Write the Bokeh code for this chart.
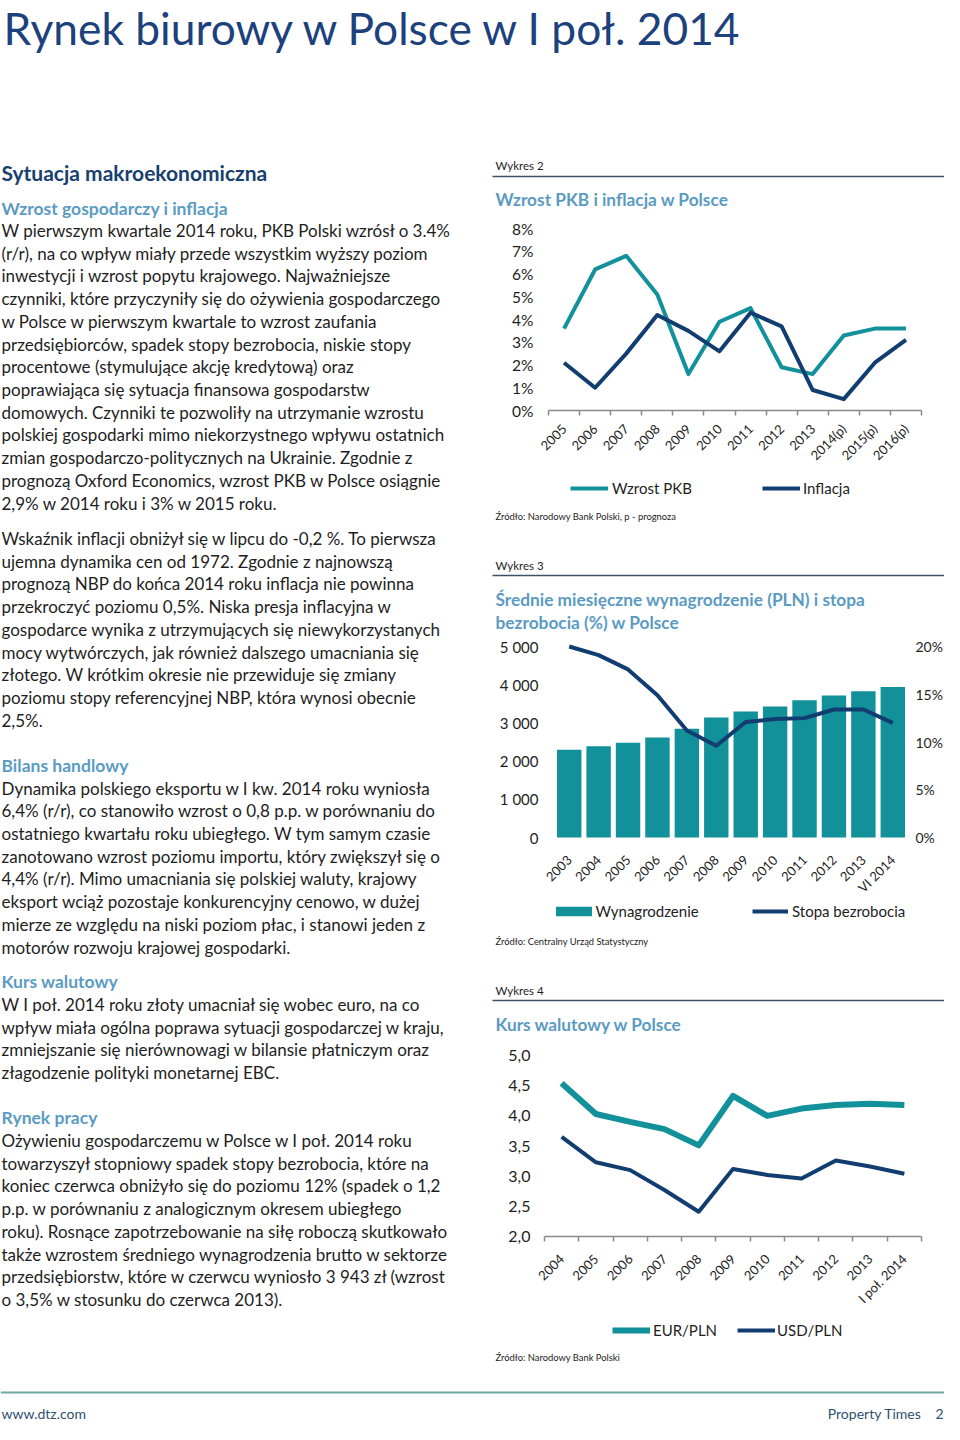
import math
from bokeh.plotting import figure
from bokeh.models import (Range1d, FixedTicker, PrintfTickFormatter, CustomJSTickFormatter,
                          LinearAxis, Legend, LegendItem)
from bokeh.core.properties import value
from bokeh.embed import file_html
from bokeh.resources import INLINE

# ---------------- data ----------------
years2 = ["2005", "2006", "2007", "2008", "2009", "2010", "2011", "2012", "2013",
          "2014(p)", "2015(p)", "2016(p)"]
gdp_growth = [3.6, 6.2, 6.8, 5.1, 1.6, 3.9, 4.5, 1.9, 1.6, 3.3, 3.6, 3.6]
inflation = [2.1, 1.0, 2.5, 4.2, 3.5, 2.6, 4.3, 3.7, 0.9, 0.5, 2.1, 3.1]
y2_ticks = [0, 1, 2, 3, 4, 5, 6, 7, 8]

years3 = ["2003", "2004", "2005", "2006", "2007", "2008", "2009", "2010", "2011",
          "2012", "2013", "VI 2014"]
wages = [2300, 2390, 2480, 2620, 2850, 3140, 3300, 3430, 3590, 3720, 3830, 3943]
unemployment = [20.0, 19.1, 17.6, 14.9, 11.2, 9.6, 12.1, 12.4, 12.5, 13.4, 13.4, 12.0]
y3_ticks = [0, 1000, 2000, 3000, 4000, 5000]
y3r_ticks = [0, 5, 10, 15, 20]

years4 = ["2004", "2005", "2006", "2007", "2008", "2009", "2010", "2011", "2012",
          "2013", "I poł. 2014"]
eur_pln = [4.54, 4.03, 3.90, 3.78, 3.51, 4.33, 4.00, 4.12, 4.18, 4.20, 4.18]
usd_pln = [3.65, 3.23, 3.10, 2.77, 2.41, 3.12, 3.02, 2.96, 3.26, 3.16, 3.04]
y4_ticks = [2.0, 2.5, 3.0, 3.5, 4.0, 4.5, 5.0]

# ---------------- texts ----------------
page_title = "Rynek biurowy w Polsce w I poł. 2014"
p1_lines = [
    "W pierwszym kwartale 2014 roku, PKB Polski wzrósł o 3.4%",
    "(r/r), na co wpływ miały przede wszystkim wyższy poziom",
    "inwestycji i wzrost popytu krajowego.  Najważniejsze",
    "czynniki, które przyczyniły się do ożywienia gospodarczego",
    "w Polsce w pierwszym kwartale to wzrost zaufania",
    "przedsiębiorców, spadek stopy bezrobocia, niskie stopy",
    "procentowe (stymulujące akcję kredytową) oraz",
    "poprawiająca się sytuacja finansowa gospodarstw",
    "domowych. Czynniki te pozwoliły na utrzymanie wzrostu",
    "polskiej gospodarki mimo niekorzystnego wpływu ostatnich",
    "zmian gospodarczo-politycznych na Ukrainie. Zgodnie z",
    "prognozą Oxford Economics, wzrost PKB w Polsce osiągnie",
    "2,9% w 2014 roku i 3% w 2015 roku.",
]
p2_lines = [
    "Wskaźnik inflacji obniżył się w lipcu do -0,2 %. To pierwsza",
    "ujemna dynamika cen od 1972. Zgodnie z najnowszą",
    "prognozą NBP do końca 2014 roku inflacja nie powinna",
    "przekroczyć poziomu 0,5%. Niska presja inflacyjna w",
    "gospodarce wynika z utrzymujących się niewykorzystanych",
    "mocy wytwórczych, jak również dalszego umacniania się",
    "złotego. W krótkim okresie nie przewiduje się zmiany",
    "poziomu stopy referencyjnej NBP, która wynosi obecnie",
    "2,5%.",
]
p3_lines = [
    "Dynamika polskiego eksportu w I kw. 2014 roku wyniosła",
    "6,4% (r/r), co stanowiło wzrost o 0,8 p.p. w porównaniu do",
    "ostatniego kwartału roku ubiegłego. W tym samym czasie",
    "zanotowano wzrost poziomu importu, który zwiększył się o",
    "4,4% (r/r). Mimo umacniania się polskiej waluty, krajowy",
    "eksport wciąż pozostaje konkurencyjny cenowo, w dużej",
    "mierze ze względu na niski poziom płac, i stanowi jeden z",
    "motorów rozwoju krajowej gospodarki.",
]
p4_lines = [
    "W I poł. 2014 roku złoty umacniał się wobec euro, na co",
    "wpływ miała ogólna poprawa sytuacji gospodarczej w kraju,",
    "zmniejszanie się nierównowagi w bilansie płatniczym oraz",
    "złagodzenie polityki monetarnej EBC.",
]
p5_lines = [
    "Ożywieniu gospodarczemu w Polsce w I poł. 2014 roku",
    "towarzyszył stopniowy spadek stopy bezrobocia, które na",
    "koniec czerwca obniżyło się do poziomu 12% (spadek o 1,2",
    "p.p. w porównaniu z analogicznym okresem ubiegłego",
    "roku). Rosnące zapotrzebowanie na siłę roboczą skutkowało",
    "także wzrostem średniego wynagrodzenia brutto w sektorze",
    "przedsiębiorstw, które w czerwcu wyniosło 3 943 zł (wzrost",
    "o 3,5% w stosunku do czerwca 2013).",
]

# ---------------- style ----------------
TEAL = "#12919B"
NAVY = "#123D70"
TITLE_NAVY = "#1C417D"
HEAD_NAVY = "#17406F"
HEAD_BLUE = "#5B9BC2"
TXT = "#1E1E1E"
AXIS_GRAY = "#8A8A8A"
RULE = "#3E5064"
FOOT_LINE = "#6EA8A0"
FOOT_TXT = "#2F5070"
FONT = "Lato"
LINE_STEP = 22.72
W, H = 944, 1424

# one page-sized figure; default ranges are page pixels (y grows downwards)
p = figure(width=W, height=H, x_range=Range1d(0, W), y_range=Range1d(H, 0),
           x_axis_type=None, y_axis_type=None, min_border=0, outline_line_color=None,
           output_backend="svg", toolbar_location=None, title=None)


def hrange(a, pa, b, pb):
    """Range whose value a sits at page x pa and value b at page x pb."""
    k = (pb - pa) / (b - a)
    s = a - pa / k
    return Range1d(s, s + W / k)


def vrange(a, pa, b, pb):
    """Range whose value a sits at page y pa and value b at page y pb (y downwards)."""
    k = (pa - pb) / (b - a)
    return Range1d(a - (H - pa) / k, a + pa / k)


p.extra_x_ranges = {
    "x2": hrange(-0.5, 548, len(years2) - 0.5, 921),
    "x3": hrange(-0.5, 554, len(years3) - 0.5, 907),
    "x4": hrange(-0.5, 544, len(years4) - 0.5, 921),
}
p.extra_y_ranges = {
    "y2": vrange(y2_ticks[0], 410, y2_ticks[-1], 228),
    "y3": vrange(y3_ticks[0], 837, y3_ticks[-1], 646),
    "y3r": vrange(y3r_ticks[0], 837, y3r_ticks[-1], 646),
    "y4": vrange(y4_ticks[0], 1236, y4_ticks[-1], 1055),
}


def put_text(xs, ys, texts, size, color, bold=False, align="left"):
    p.text(x=xs, y=ys, text=texts, text_font=value(FONT), text_font_size=f"{size}px",
           text_font_style="bold" if bold else "normal", text_color=color,
           text_baseline="middle", text_align=align)


def rule(x0, x1, y, color=RULE, width=1.5):
    p.segment(x0=[x0], y0=[y], x1=[x1], y1=[y], line_color=color, line_width=width)


def value_axis(xr, yr, loc, ticks, fmt, side, standoff, size):
    ax = LinearAxis(x_range_name=xr, y_range_name=yr, fixed_location=loc,
                    bounds=(ticks[0], ticks[-1]), ticker=FixedTicker(ticks=ticks),
                    formatter=fmt, axis_line_color=None, major_tick_line_color=None,
                    minor_tick_line_color=None, major_tick_out=0, major_tick_in=0,
                    major_label_standoff=standoff, major_label_text_font=FONT,
                    major_label_text_font_size=f"{size}px", major_label_text_color=TXT)
    p.add_layout(ax, side)


def index_axis(xr, yr, loc, labels, standoff, show_line=True):
    n = len(labels)
    ax = LinearAxis(x_range_name=xr, y_range_name=yr, fixed_location=loc,
                    bounds=(-0.5, n - 0.5),
                    ticker=FixedTicker(ticks=list(range(n)),
                                       minor_ticks=[i - 0.5 for i in range(n + 1)]),
                    major_label_overrides={i: lab for i, lab in enumerate(labels)},
                    major_label_orientation=math.pi / 4,
                    major_tick_line_color=None, major_tick_out=0, major_tick_in=0,
                    minor_tick_line_color=AXIS_GRAY if show_line else None,
                    minor_tick_line_width=1.5, minor_tick_out=5, minor_tick_in=0,
                    axis_line_color=AXIS_GRAY if show_line else None, axis_line_width=1.5,
                    major_label_standoff=standoff, major_label_text_font=FONT,
                    major_label_text_font_size="13px", major_label_text_color=TXT)
    p.add_layout(ax, "below")


ITEM_H = 18


def add_legend(label, renderer, left, center_y, gw, gh, standoff):
    lg = Legend(items=[LegendItem(label=value(label), renderers=[renderer])],
                location=(left, H - (center_y + ITEM_H / 2)), orientation="horizontal",
                glyph_width=gw, glyph_height=gh, label_height=gh, label_standoff=standoff,
                padding=0, margin=0, spacing=0, border_line_color=None,
                background_fill_alpha=0, label_text_font=FONT,
                label_text_font_size="15px", label_text_color=TXT)
    p.add_layout(lg)


# ---------------- page title ----------------
put_text([3], [27], [page_title], 44.3, TITLE_NAVY)

# ---------------- left text column ----------------
put_text([1], [172], ["Sytuacja makroekonomiczna"], 21, HEAD_NAVY, bold=True)
blocks = [
    ("Wzrost gospodarczy i inflacja", 208, 230, p1_lines),
    (None, None, 538, p2_lines),
    ("Bilans handlowy", 765, 787.5, p3_lines),
    ("Kurs walutowy", 981, 1004, p4_lines),
    ("Rynek pracy", 1117, 1140, p5_lines),
]
for head, hy, y0, lines in blocks:
    if head:
        put_text([1], [hy], [head], 17.5, HEAD_BLUE, bold=True)
    put_text([1] * len(lines), [y0 + i * LINE_STEP for i in range(len(lines))],
             lines, 17, TXT)

# ---------------- chart 2: GDP growth and inflation ----------------
put_text([495], [165], ["Wykres 2"], 11.5, TXT)
rule(492, W, 176)
put_text([495], [199], ["Wzrost PKB i inflacja w Polsce"], 17.3, HEAD_BLUE, bold=True)

idx2 = list(range(len(years2)))
r_gdp = p.line(idx2, gdp_growth, x_range_name="x2", y_range_name="y2",
               line_color=TEAL, line_width=4, line_join="round")
r_inf = p.line(idx2, inflation, x_range_name="x2", y_range_name="y2",
               line_color=NAVY, line_width=4, line_join="round")
value_axis("x2", "y2", -0.5, y2_ticks, PrintfTickFormatter(format="%d%%"), "left", 15, 15.5)
index_axis("x2", "y2", y2_ticks[0], years2, 11)
add_legend("Wzrost PKB", r_gdp, 570, 488, 38, 18, 4)
add_legend("Inflacja", r_inf, 762, 488, 38, 18, 3)
put_text([495], [516], ["Źródło: Narodowy Bank Polski, p - prognoza"], 9.4, TXT)

# ---------------- chart 3: wages and unemployment ----------------
put_text([495], [565], ["Wykres 3"], 11.5, TXT)
rule(492, W, 575)
put_text([495, 495], [599, 622],
         ["Średnie miesięczne wynagrodzenie (PLN) i stopa", "bezrobocia (%) w Polsce"],
         17.3, HEAD_BLUE, bold=True)

idx3 = list(range(len(years3)))
r_wage = p.vbar(x=idx3, top=wages, width=0.83, x_range_name="x3", y_range_name="y3",
                fill_color=TEAL, line_color=None)
r_unemp = p.line(idx3, unemployment, x_range_name="x3", y_range_name="y3r",
                 line_color=NAVY, line_width=4, line_join="round")
thousands = CustomJSTickFormatter(code="""
const s = Math.round(tick).toString();
return s.length > 3 ? s.slice(0, s.length - 3) + " " + s.slice(s.length - 3) : s;
""")
value_axis("x3", "y3", -0.5, y3_ticks, thousands, "left", 16, 15)
value_axis("x3", "y3r", len(years3) - 0.5, y3r_ticks, PrintfTickFormatter(format="%d%%"),
           "right", 8, 14)
index_axis("x3", "y3", y3_ticks[0], years3, 15, show_line=False)
add_legend("Wynagrodzenie", r_wage, 550.5, 911, 45, 12, 0)
add_legend("Stopa bezrobocia", r_unemp, 752, 911, 36, 18, 4)
put_text([495], [941], ["Źródło: Centralny Urząd Statystyczny"], 9.4, TXT)

# ---------------- chart 4: exchange rates ----------------
put_text([495], [990], ["Wykres 4"], 11.5, TXT)
rule(492, W, 1000)
put_text([495], [1024], ["Kurs walutowy w Polsce"], 17.3, HEAD_BLUE, bold=True)

idx4 = list(range(len(years4)))
r_eur = p.line(idx4, eur_pln, x_range_name="x4", y_range_name="y4",
               line_color=TEAL, line_width=6, line_join="round")
r_usd = p.line(idx4, usd_pln, x_range_name="x4", y_range_name="y4",
               line_color=NAVY, line_width=4, line_join="round")
comma = CustomJSTickFormatter(code="return tick.toFixed(1).replace('.', ',');")
value_axis("x4", "y4", -0.5, y4_ticks, comma, "left", 14, 16)
index_axis("x4", "y4", y4_ticks[0], years4, 15)
add_legend("EUR/PLN", r_eur, 612, 1330, 38, 18, 3)
add_legend("USD/PLN", r_usd, 737, 1330, 38, 18, 2)
put_text([495], [1357], ["Źródło:  Narodowy Bank Polski"], 9.4, TXT)

# ---------------- footer ----------------
rule(0, W, 1392, color=FOOT_LINE, width=2)
put_text([1], [1413], ["www.dtz.com"], 14, FOOT_TXT)
put_text([921], [1413], ["Property Times"], 14, FOOT_TXT, align="right")
put_text([943], [1413], ["2"], 14, FOOT_TXT, align="right")

open("out.html", "w").write(file_html(p, INLINE, title=page_title))
